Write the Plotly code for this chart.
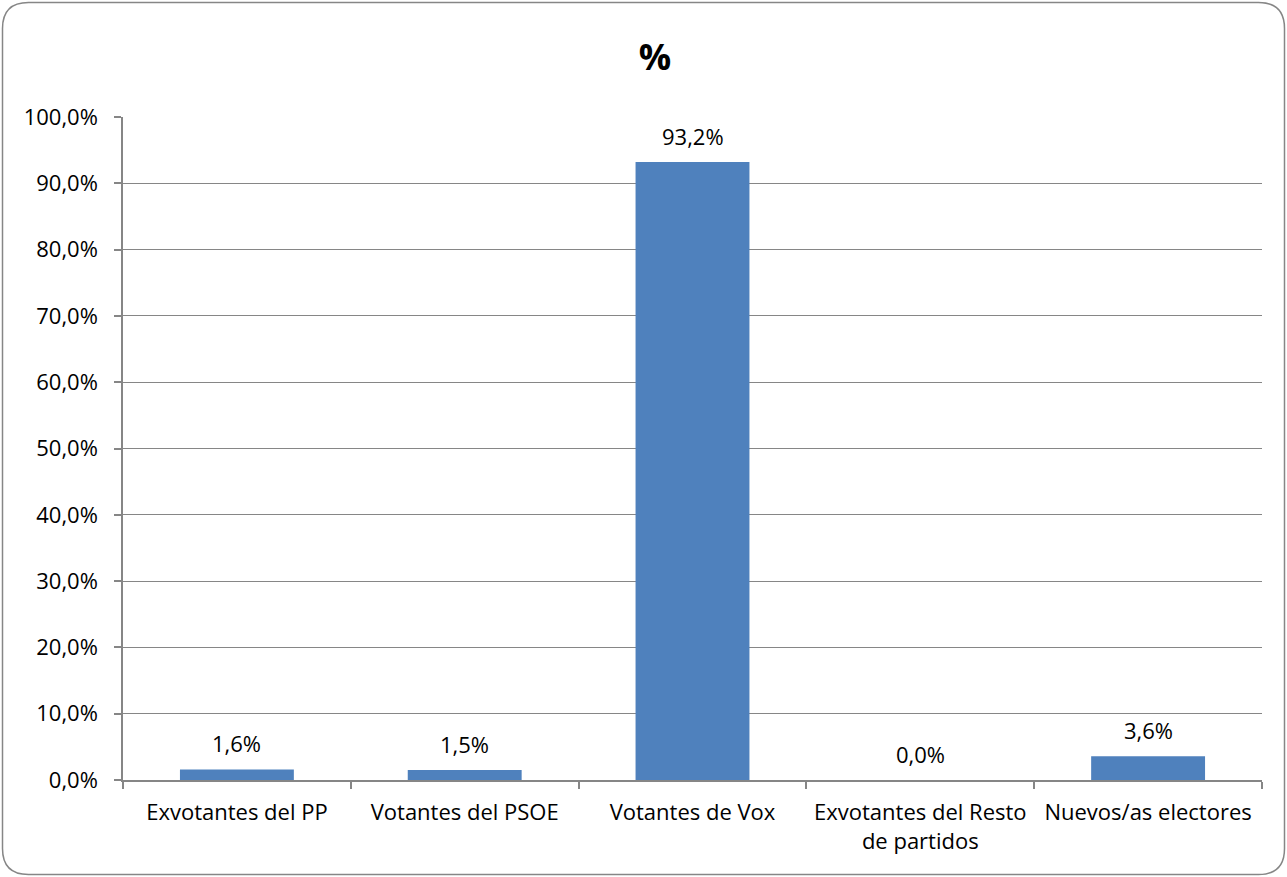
import plotly.graph_objects as go

categories = ["Exvotantes del PP", "Votantes del PSOE", "Votantes de Vox",
              "Exvotantes del Resto<br>de partidos", "Nuevos/as electores"]
values = [1.6, 1.5, 93.2, 0.0, 3.6]
y_ticks = [0, 10, 20, 30, 40, 50, 60, 70, 80, 90, 100]
y_tick_text = [f"{v:.1f}%".replace(".", ",") for v in y_ticks]

W, H = 1287, 877
L, R, T, B = 123, 1262, 117, 780

def px(x):
    return (x - L) / (R - L)

def py(y):
    return (B - y) / (B - T)

FONT = "'Open Sans', sans-serif"
FS = 22

fig = go.Figure()
fig.add_trace(go.Bar(
    x=categories, y=values,
    marker=dict(color="#4F81BD", line=dict(width=0)),
    width=0.5, cliponaxis=False, hoverinfo="x+y",
))

for c, v in zip(categories, values):
    fig.add_annotation(x=c, y=v, text=f"{v:.1f}%".replace(".", ","),
                       showarrow=False, yanchor="bottom", yshift=9,
                       font=dict(size=FS, color="#000000", family=FONT))

# rounded border
x0, y0, x1, y1, r = 2.5, 2.5, 1284.5, 874.5, 26
path = (f"M {px(x0 + r)},{py(y0)} L {px(x1 - r)},{py(y0)} "
        f"Q {px(x1)},{py(y0)} {px(x1)},{py(y0 + r)} "
        f"L {px(x1)},{py(y1 - r)} Q {px(x1)},{py(y1)} {px(x1 - r)},{py(y1)} "
        f"L {px(x0 + r)},{py(y1)} Q {px(x0)},{py(y1)} {px(x0)},{py(y1 - r)} "
        f"L {px(x0)},{py(y0 + r)} Q {px(x0)},{py(y0)} {px(x0 + r)},{py(y0)} Z")
fig.add_shape(type="path", path=path, xref="paper", yref="paper",
              line=dict(color="#868686", width=1.5), layer="below")

fig.update_layout(
    width=W, height=H,
    margin=dict(l=L, r=W - R, t=T, b=H - B, pad=0),
    paper_bgcolor="white", plot_bgcolor="white",
    separators=",.",
    showlegend=False,
    font=dict(family=FONT, size=FS, color="#000000"),
    title=dict(text="<b>%</b>", x=655 / W, xanchor="center", y=1 - 57 / H, yanchor="middle",
               font=dict(size=36, family=FONT, color="#000000")),
)
fig.update_yaxes(
    range=[0, 100], tickvals=y_ticks, ticktext=y_tick_text,
    showgrid=True, gridcolor="#868686", gridwidth=1,
    showline=True, linecolor="#868686", linewidth=1.5,
    ticks="outside", ticklen=7, tickcolor="#868686", tickwidth=1.5,
    ticklabelstandoff=12,
    tickfont=dict(size=FS, color="#000000"), zeroline=False, fixedrange=True,
)
fig.update_xaxes(
    showline=True, linecolor="#868686", linewidth=1.5,
    ticks="outside", tickson="boundaries", ticklen=7, tickcolor="#868686", tickwidth=1.5,
    ticklabelstandoff=12,
    tickfont=dict(size=FS, color="#000000"), showgrid=False, fixedrange=True,
)

fig.write_html("out.html", config={"displayModeBar": False},
               post_script="document.body.style.margin='0';document.body.style.overflow='hidden';")
